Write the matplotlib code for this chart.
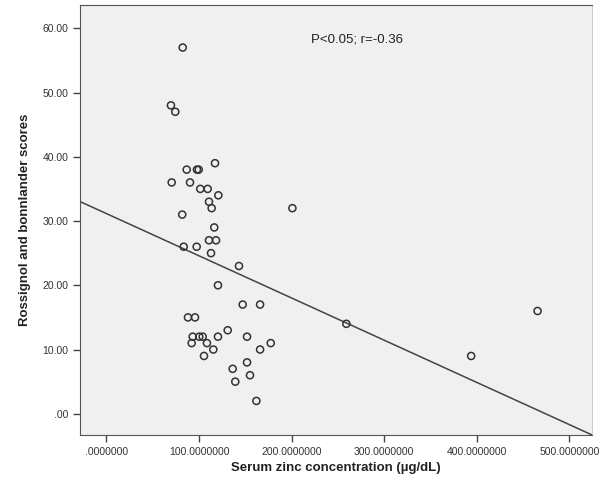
import numpy as np
import matplotlib.pyplot as plt

plt.rcParams['font.family'] = ['Liberation Sans', 'DejaVu Sans']

# Serum zinc (x) and Rossignol/Bonnlander score (y)
zinc = [82.4, 69.7, 74.4, 86.7, 97.8, 99.7, 117.3, 70.5, 90.3, 101.4,
        109.4, 120.9, 110.8, 113.7, 81.9, 200.9, 116.5, 110.8, 118.4, 83.5,
        97.5, 113.0, 143.2, 120.5, 147.2, 166.0, 88.1, 95.7, 131.0, 93.2,
        100.3, 104.0, 120.5, 151.9, 92.1, 108.6, 177.5, 115.5, 166.0, 105.4,
        151.9, 136.4, 155.1, 139.2, 162.0, 259.2, 394.0, 465.7]
score = [57, 48, 47, 38, 38, 38, 39, 36, 36, 35,
         35, 34, 33, 32, 31, 32, 29, 27, 27, 26,
         26, 25, 23, 20, 17, 17, 15, 15, 13, 12,
         12, 12, 12, 12, 11, 11, 11, 10, 10, 9,
         8, 7, 6, 5, 2, 14, 9, 16]

xticks = [0, 100, 200, 300, 400, 500]
xticklabels = ['.0000000', '100.0000000', '200.0000000', '300.0000000',
               '400.0000000', '500.0000000']
yticks = [0, 10, 20, 30, 40, 50, 60]
yticklabels = ['.00', '10.00', '20.00', '30.00', '40.00', '50.00', '60.00']

fig = plt.figure(figsize=(6.01, 4.83), dpi=100)
ax = fig.add_axes([0.133, 0.0994, 0.852, 0.890])
ax.set_facecolor('#f0f0f0')

ax.scatter(zinc, score, s=26, facecolors='none', edgecolors='#333333',
           linewidths=1.1, zorder=3)

# linear fit line
slope, intercept = np.polyfit(zinc, score, 1)
ax.axline((0, intercept), slope=slope, color='#444444', lw=1.1, zorder=2)

ax.text(271, 58.2, 'P<0.05; r=-0.36', ha='center', va='center',
        fontsize=9.5, color='#222222')

ax.set_xlim(-28.6, 524.5)
ax.set_ylim(-3.3, 63.6)
ax.set_xticks(xticks)
ax.set_xticklabels(xticklabels)
ax.set_yticks(yticks)
ax.set_yticklabels(yticklabels)
ax.tick_params(direction='out', length=5, width=1, colors='#444444',
               labelsize=7.5, labelcolor='#333333')

for side in ['left', 'bottom', 'top']:
    ax.spines[side].set_color('#555555')
ax.spines['right'].set_color('#cccccc')

ax.set_xlabel('Serum zinc concentration (µg/dL)', fontsize=9.5,
              fontweight='bold', color='#222222', labelpad=4)
ax.set_ylabel('Rossignol and bonnlander scores', fontsize=9.5,
              fontweight='bold', color='#222222', labelpad=8)

fig.savefig('out.png', dpi=100)
